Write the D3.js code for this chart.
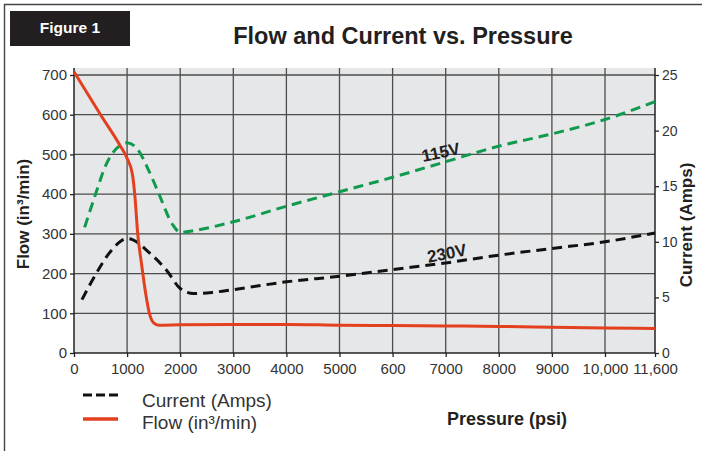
<!DOCTYPE html>
<html>
<head>
<meta charset="utf-8">
<script src="https://cdn.jsdelivr.net/npm/d3@7/dist/d3.min.js"></script>
<style>
  html, body { margin: 0; padding: 0; background: #fff; }
  svg { display: block; font-family: "Liberation Sans", Arial, Helvetica, sans-serif; }
</style>
</head>
<body>
<svg id="chart" width="702" height="451"></svg>
<script>
// ---- data ----
const pressureTicks = [0, 1000, 2000, 3000, 4000, 5000, 6000, 7000, 8000, 9000, 10000, 11600];
const pressureLabels = ["0", "1000", "2000", "3000", "4000", "5000", "600", "7000", "8000", "9000", "10,000", "11,600"];
const flowTicks = [0, 100, 200, 300, 400, 500, 600, 700];
const currentTicks = [0, 5, 10, 15, 20, 25];

// Flow (in³/min) vs pressure (psi)
const flowPressure = [0, 500, 870, 1000, 1100, 1150, 1200, 1270, 1350, 1420, 1500, 1600, 2000, 3000, 4000, 5000, 6000, 7000, 8000, 9000, 10000, 11600];
const flowValues   = [708, 600, 522, 490, 450, 390, 300, 226, 150, 100, 76, 70, 71, 72, 72, 70, 69, 68, 67, 65, 63, 62];

// Current (Amps) at 230V
const cur230Pressure = [150, 400, 700, 1000, 1100, 1400, 1750, 2000, 2250, 2600, 3000, 4000, 5000, 6000, 7000, 8000, 9000, 10000, 11600];
const cur230Values   = [4.8, 7.0, 9.2, 10.3, 10.2, 9.1, 7.4, 5.8, 5.35, 5.45, 5.7, 6.4, 6.9, 7.5, 8.1, 8.8, 9.4, 10.0, 10.8];

// Current (Amps) at 115V
const cur115Pressure = [200, 400, 600, 850, 1000, 1200, 1400, 1600, 1850, 2000, 2250, 3000, 4000, 5000, 6000, 7000, 8000, 9000, 10000, 11600];
const cur115Values   = [11.3, 14.2, 16.9, 18.6, 18.9, 18.3, 16.5, 14.3, 11.6, 10.85, 11.0, 11.8, 13.2, 14.5, 15.8, 17.2, 18.6, 19.7, 21.0, 22.6];

// ---- layout ----
const svg = d3.select("#chart");
const plotTop = 68;
const x = d3.scaleLinear().domain([0, 10000, 11600]).range([74, 605, 655]);
const yFlow = d3.scaleLinear().domain([0, 700]).range([353, 75]);
const yAmp = d3.scaleLinear().domain([0, 25]).range([353, 75]);
const x0 = x(0), x1 = x(11600), yB = yFlow(0);

// outer frame
svg.append("path").attr("d", `M4.5,451 L4.5,4.5 L702,4.5`).attr("fill", "none").attr("stroke", "#444").attr("stroke-width", 1.4);

// Figure 1 box
svg.append("rect").attr("x", 10).attr("y", 11).attr("width", 120).attr("height", 35).attr("fill", "#231f20");
svg.append("text").attr("x", 70).attr("y", 33).attr("text-anchor", "middle").attr("fill", "#fff")
  .attr("font-weight", "bold").attr("font-size", 15.5).text("Figure 1");

// title
svg.append("text").attr("x", 403).attr("y", 44).attr("text-anchor", "middle").attr("fill", "#231f20")
  .attr("font-weight", "bold").attr("font-size", 23.5).text("Flow and Current vs. Pressure");

// plot background
svg.append("rect").attr("x", x0).attr("y", plotTop).attr("width", x1 - x0).attr("height", yB - plotTop).attr("fill", "#e6e7e9");

// grid
const grid = svg.append("g").attr("stroke", "#4d4d4d").attr("stroke-width", 1.3);
grid.selectAll("line.v").data(pressureTicks.filter(d => d > 0 && d < 11600)).join("line")
  .attr("x1", d => x(d)).attr("x2", d => x(d)).attr("y1", plotTop).attr("y2", yB);
grid.selectAll("line.h").data(flowTicks.filter(d => d > 0)).join("line").attr("class", "h")
  .attr("x1", x0).attr("x2", x1).attr("y1", d => yFlow(d)).attr("y2", d => yFlow(d));

// axes
const axisColor = "#222";
const gLeft = svg.append("g").attr("transform", `translate(${x0},0)`)
  .call(d3.axisLeft(yFlow).tickValues(flowTicks).tickSize(4).tickSizeOuter(0).tickPadding(3));
const gRight = svg.append("g").attr("transform", `translate(${x1},0)`)
  .call(d3.axisRight(yAmp).tickValues(currentTicks).tickSize(4).tickSizeOuter(0).tickPadding(3));
const gBottom = svg.append("g").attr("transform", `translate(0,${yB})`)
  .call(d3.axisBottom(x).tickValues(pressureTicks).tickFormat((d, i) => pressureLabels[i]).tickSize(4).tickSizeOuter(0).tickPadding(6));
[gLeft, gRight, gBottom].forEach(g => {
  g.select(".domain").remove();
  g.selectAll("line").attr("stroke", axisColor).attr("stroke-width", 1.3);
  g.selectAll("text").attr("fill", "#333").attr("font-family", "'Liberation Sans', Arial, sans-serif");
});
gLeft.selectAll("text").attr("font-size", 15);
gBottom.selectAll("text").attr("font-size", 15);
gRight.selectAll("text").attr("font-size", 14);

// axis lines
svg.append("line").attr("x1", x0).attr("x2", x0).attr("y1", plotTop).attr("y2", yB).attr("stroke", axisColor).attr("stroke-width", 1.5);
svg.append("line").attr("x1", x1).attr("x2", x1).attr("y1", plotTop).attr("y2", yB).attr("stroke", axisColor).attr("stroke-width", 1.5);
svg.append("line").attr("x1", x0).attr("x2", x1).attr("y1", yB).attr("y2", yB).attr("stroke", axisColor).attr("stroke-width", 1.5);

// axis titles
svg.append("text").attr("transform", "translate(29,214) rotate(-90)").attr("text-anchor", "middle")
  .attr("font-weight", "bold").attr("font-size", 17).attr("fill", "#231f20").text("Flow (in³/min)");
svg.append("text").attr("transform", "translate(692,225) rotate(-90)").attr("text-anchor", "middle")
  .attr("font-weight", "bold").attr("font-size", 17).attr("fill", "#231f20").text("Current (Amps)");
svg.append("text").attr("x", 507).attr("y", 425).attr("text-anchor", "middle")
  .attr("font-weight", "bold").attr("font-size", 18).attr("fill", "#231f20").text("Pressure (psi)");

// series
const lineAmp = d3.line().x(d => x(d[0])).y(d => yAmp(d[1])).curve(d3.curveMonotoneX);
const lineFlow = d3.line().x(d => x(d[0])).y(d => yFlow(d[1])).curve(d3.curveMonotoneX);

svg.append("path").datum(d3.zip(cur115Pressure, cur115Values)).attr("d", lineAmp)
  .attr("fill", "none").attr("stroke", "#109a4e").attr("stroke-width", 3).attr("stroke-dasharray", "10,6");
svg.append("path").datum(d3.zip(cur230Pressure, cur230Values)).attr("d", lineAmp)
  .attr("fill", "none").attr("stroke", "#111").attr("stroke-width", 3).attr("stroke-dasharray", "10,6");
svg.append("path").datum(d3.zip(flowPressure, flowValues)).attr("d", lineFlow)
  .attr("fill", "none").attr("stroke", "#e2401f").attr("stroke-width", 3).attr("stroke-linejoin", "round");

// series labels
svg.append("text").attr("transform", "translate(442,158) rotate(-12)").attr("text-anchor", "middle")
  .attr("font-weight", "bold").attr("font-size", 17).attr("fill", "#231f20").text("115V");
svg.append("text").attr("transform", "translate(448,259) rotate(-11)").attr("text-anchor", "middle")
  .attr("font-weight", "bold").attr("font-size", 17).attr("fill", "#231f20").text("230V");

// legend
svg.append("line").attr("x1", 83).attr("x2", 120).attr("y1", 395).attr("y2", 395)
  .attr("stroke", "#111").attr("stroke-width", 3).attr("stroke-dasharray", "9,4");
svg.append("line").attr("x1", 83).attr("x2", 118).attr("y1", 419).attr("y2", 419)
  .attr("stroke", "#e2401f").attr("stroke-width", 3.5);
svg.append("text").attr("x", 142).attr("y", 407).attr("font-size", 19).attr("fill", "#333").text("Current (Amps)");
svg.append("text").attr("x", 142).attr("y", 429).attr("font-size", 19).attr("fill", "#333").text("Flow (in³/min)");
</script>
</body>
</html>
